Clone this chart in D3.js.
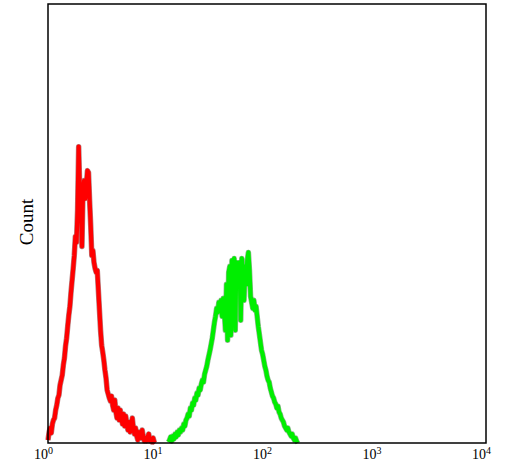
<!DOCTYPE html>
<html>
<head>
<meta charset="utf-8">
<script src="https://cdn.jsdelivr.net/npm/d3@7"></script>
<style>
  body { margin: 0; background: #fff; }
  text { font-family: "Liberation Serif", "DejaVu Serif", serif; }
</style>
</head>
<body>
<div id="chart"></div>
<script>
// Flow histogram: log10 fluorescence (decades), 0.01-decade bins

const decadeTicks = [0, 1, 2, 3, 4];

// control (red): first bin at 0.00 decades
const redStart = 0.00;
const redCounts = [
  3, 11, 15, 10, 19, 23, 25, 33, 38, 45,
  48, 58, 63, 68, 78, 85, 97, 105, 117, 128,
  137, 151, 163, 175, 188, 207, 201, 233, 297, 255,
  243, 197, 255, 263, 245, 258, 273, 271, 243, 218,
  188, 193, 181, 175, 171, 173, 153, 133, 113, 98,
  91, 83, 73, 65, 53, 49, 45, 42, 47, 38,
  33, 43, 31, 25, 35, 23, 33, 25, 19, 29,
  17, 27, 19, 13, 21, 11, 15, 25, 15, 9,
  15, 7, 3, 11, 6, 5, 13, 6, 2, 5,
  2, 6, 9, 2, 4, 1, 5, 1, 0
];

// stained sample (green): first bin at 1.10 decades
const greenStart = 1.10;
const greenCounts = [
  1, 3, 6, 2, 7, 4, 9, 6, 11, 8,
  13, 11, 15, 13, 19, 17, 23, 25, 29, 27,
  35, 33, 40, 38, 45, 43, 50, 48, 55, 53,
  59, 63, 61, 69, 73, 77, 83, 88, 93, 99,
  105, 113, 121, 127, 135, 131, 141, 137, 143, 127,
  145, 133, 113, 159, 103, 171, 177, 108, 183, 173,
  185, 113, 181, 165, 175, 181, 123, 185, 173, 143,
  177, 159, 183, 191, 173, 147, 141, 135, 143, 133,
  137, 127, 117, 109, 101, 93, 89, 83, 77, 73,
  67, 63, 61, 55, 51, 47, 45, 41, 39, 35,
  37, 31, 29, 25, 23, 21, 17, 15, 13, 15,
  11, 9, 7, 9, 5, 3, 5, 2, 0
];

const binWidth = 0.01;

const width = 507, height = 474;
const margin = { top: 4, right: 21, bottom: 31, left: 48 };

const svg = d3.select("#chart")
    .append("svg")
    .attr("width", width)
    .attr("height", height);

const x = d3.scaleLinear()
    .domain([0, 4])
    .range([margin.left, width - margin.right]);

const y = d3.scaleLinear()
    .domain([0, 440])
    .range([height - margin.bottom, margin.top]);

const toPoints = (start, counts) =>
    counts.map((c, i) => [start + i * binWidth, c]);

const line = d3.line()
    .x(d => x(d[0]))
    .y(d => y(d[1]));

// histograms
const series = [
    { pts: toPoints(redStart, redCounts), main: "#ff0000", edge: "#6e0000" },
    { pts: toPoints(greenStart, greenCounts), main: "#00ee00", edge: "#1f6e1f" }
];

series.forEach(s => {
    svg.append("path")
        .attr("d", line(s.pts))
        .attr("fill", "none")
        .attr("stroke", s.edge)
        .attr("stroke-opacity", 0.5)
        .attr("stroke-width", 5.5)
        .attr("stroke-linejoin", "round");

    svg.append("path")
        .attr("d", line(s.pts))
        .attr("fill", "none")
        .attr("stroke", s.main)
        .attr("stroke-width", 4.2)
        .attr("stroke-linejoin", "round");
});

// frame
svg.append("rect")
    .attr("x", margin.left)
    .attr("y", margin.top)
    .attr("width", width - margin.left - margin.right)
    .attr("height", height - margin.top - margin.bottom)
    .attr("fill", "none")
    .attr("stroke", "#000")
    .attr("stroke-width", 1.5);

// x axis with 10^n labels
const xAxis = svg.append("g")
    .attr("transform", `translate(0, ${height - margin.bottom})`)
    .call(d3.axisBottom(x).tickValues(decadeTicks).tickSize(0).tickPadding(6).tickFormat(""));

xAxis.select(".domain").remove();

xAxis.selectAll(".tick text")
    .attr("dx", "-5")
    .style("font-size", "14px")
    .style("fill", "#000")
    .each(function(d) {
        const t = d3.select(this);
        t.append("tspan").text("10");
        t.append("tspan")
            .attr("dy", "-5")
            .style("font-size", "10px")
            .text(d);
    });

// y label
svg.append("text")
    .attr("transform", "rotate(-90)")
    .attr("x", -222)
    .attr("y", 33)
    .attr("text-anchor", "middle")
    .style("font-size", "19px")
    .text("Count");
</script>
</body>
</html>
